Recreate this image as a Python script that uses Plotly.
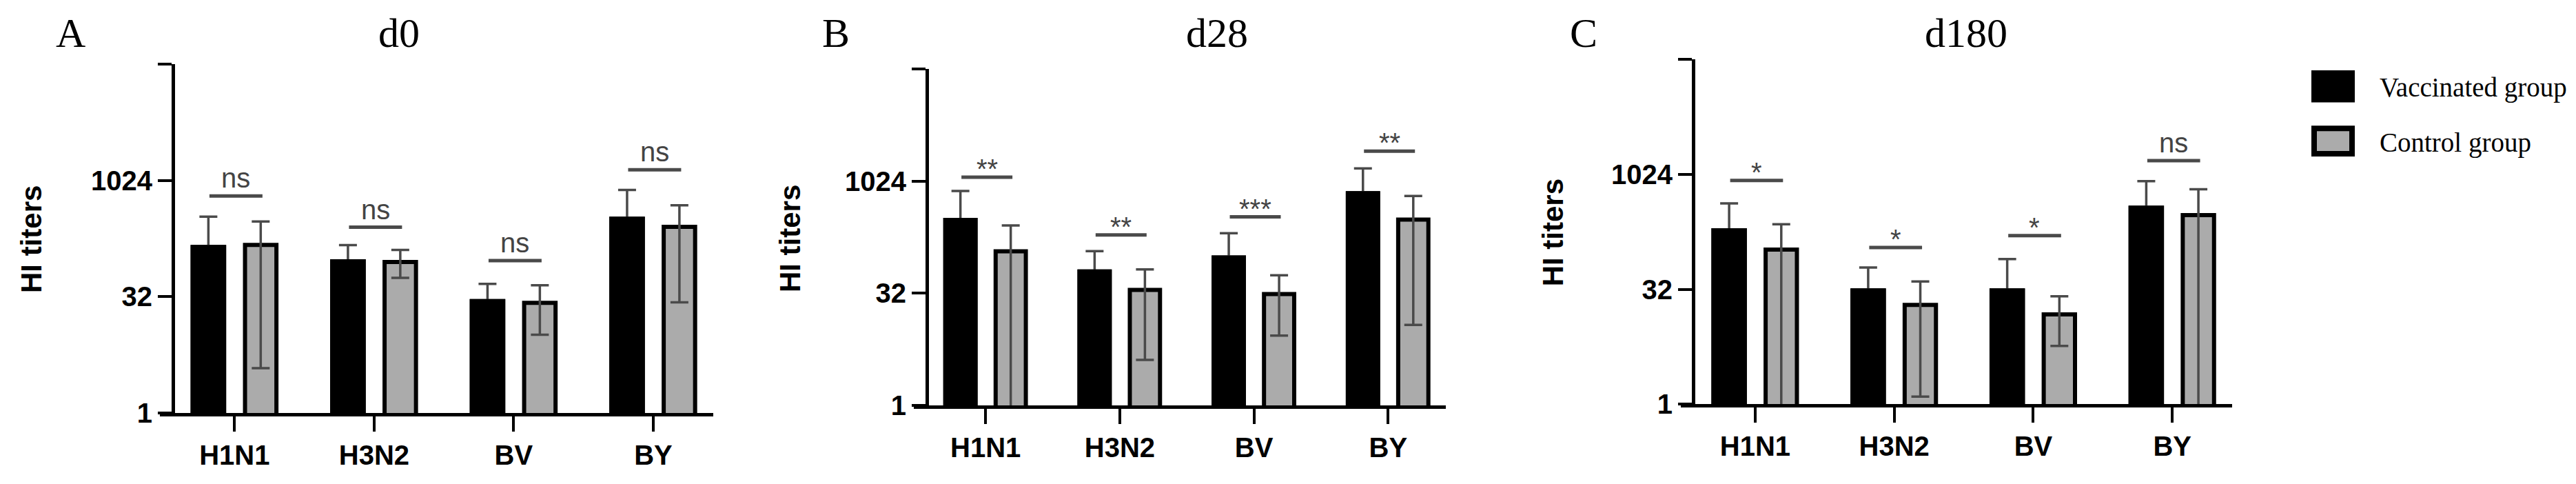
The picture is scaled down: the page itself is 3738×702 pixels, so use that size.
import math
import plotly.graph_objects as go

W, H = 3738, 702

strains = ["H1N1", "H3N2", "BV", "BY"]
groups = ["Vaccinated group", "Control group"]
y_tickvals = [1, 32, 1024, 32768]
y_ticktext = ["1", "32", "1024", ""]

# d0 (geometric mean titers, upper / lower ends of error bars)
d0_vacc = [141, 92, 28, 327]
d0_vacc_hi = [348, 149, 47, 774]
d0_ctrl = [150, 90, 26.7, 257]
d0_ctrl_hi = [301, 129, 45, 488]
d0_ctrl_lo = [3.8, 56, 10.3, 27]
d0_sig_y = [646, 254, 94, 1410]
d0_sig = ["ns", "ns", "ns", "ns"]

# d28
d28_vacc = [309, 63, 97, 705]
d28_vacc_hi = [755, 118, 205, 1518]
d28_ctrl = [117, 35.5, 31.3, 313]
d28_ctrl_hi = [260, 67, 56, 649]
d28_ctrl_lo = [0.5, 4.1, 8.7, 12.1]
d28_sig_y = [1155, 194, 340, 2590]
d28_sig = ["**", "**", "***", "**"]

# d180
d180_vacc = [190, 31, 31, 375]
d180_vacc_hi = [428, 62, 80, 838]
d180_ctrl = [106, 20, 15, 300]
d180_ctrl_hi = [228, 40.5, 26, 657]
d180_ctrl_lo = [0.5, 1.26, 5.8, 0.5]
d180_sig_y = [855, 113, 162, 1555]
d180_sig = ["*", "*", "*", "ns"]

panels = [
    dict(letter="A", title="d0", vacc=d0_vacc, vacc_hi=d0_vacc_hi, ctrl=d0_ctrl,
         ctrl_hi=d0_ctrl_hi, ctrl_lo=d0_ctrl_lo, sig_y=d0_sig_y, sig=d0_sig,
         x0=224, x1=1027, yline=243, top=88, bottom=610,
         letter_x=94, title_x=571, ytitle_x=37, ytitle_y=350),
    dict(letter="B", title="d28", vacc=d28_vacc, vacc_hi=d28_vacc_hi, ctrl=d28_ctrl,
         ctrl_hi=d28_ctrl_hi, ctrl_lo=d28_ctrl_lo, sig_y=d28_sig_y, sig=d28_sig,
         x0=1318, x1=2090, yline=1337, top=95, bottom=599,
         letter_x=1205, title_x=1758, ytitle_x=1138, ytitle_y=349),
    dict(letter="C", title="d180", vacc=d180_vacc, vacc_hi=d180_vacc_hi, ctrl=d180_ctrl,
         ctrl_hi=d180_ctrl_hi, ctrl_lo=d180_ctrl_lo, sig_y=d180_sig_y, sig=d180_sig,
         x0=2431, x1=3231, yline=2449, top=81, bottom=597,
         letter_x=2290, title_x=2845, ytitle_x=2245, ytitle_y=340),
]

GRAY = "#ababab"
ERR = "#4a4a4a"
SANS = "Liberation Sans, Arial, sans-serif"
NARROW = "Liberation Sans Narrow, Arial Narrow, Liberation Sans, sans-serif"
SERIF = "Liberation Serif, Times New Roman, serif"

fig = go.Figure()
annotations = []
shapes = []

for i, p in enumerate(panels, start=1):
    xa, ya = f"x{i}", f"y{i}"
    # vaccinated: stem runs down through the bar, covered by the redraw below
    fig.add_trace(go.Bar(
        x=strains, y=p["vacc"], name=groups[0], xaxis=xa, yaxis=ya,
        offsetgroup="vacc", marker=dict(color="black", line=dict(color="black", width=6)),
        error_y=dict(type="data", symmetric=False,
                     array=[h - v for h, v in zip(p["vacc_hi"], p["vacc"])],
                     arrayminus=[v * 0.5 for v in p["vacc"]],
                     color=ERR, thickness=3.5, width=13),
        showlegend=False))
    fig.add_trace(go.Bar(
        x=strains, y=p["ctrl"], name=groups[1], xaxis=xa, yaxis=ya,
        offsetgroup="ctrl", marker=dict(color=GRAY, line=dict(color="black", width=6)),
        error_y=dict(type="data", symmetric=False,
                     array=[h - v for h, v in zip(p["ctrl_hi"], p["ctrl"])],
                     arrayminus=[v - lo for lo, v in zip(p["ctrl_lo"], p["ctrl"])],
                     color=ERR, thickness=3.5, width=13),
        showlegend=False))
    fig.add_trace(go.Bar(
        x=strains, y=p["vacc"], xaxis=xa, yaxis=ya, offsetgroup="vacc",
        marker=dict(color="black", line=dict(color="black", width=6)),
        showlegend=False, hoverinfo="skip"))

    fig.update_layout(**{
        f"xaxis{i}": dict(
            domain=[p["x0"] / W, p["x1"] / W], anchor=ya, range=[-0.535, 3.43],
            type="category", showline=True, linecolor="black", linewidth=5,
            ticks="outside", ticklen=22, tickwidth=4, tickcolor="black",
            tickfont=dict(family=SANS, size=40, color="black", weight="bold"),
            showgrid=False, zeroline=False, fixedrange=True),
        f"yaxis{i}": dict(
            domain=[1 - p["bottom"] / H, 1 - p["top"] / H], anchor="free",
            position=p["yline"] / W, type="log", range=[0, math.log10(32768)],
            tickvals=y_tickvals, ticktext=y_ticktext,
            showline=True, linecolor="black", linewidth=5,
            ticks="outside", ticklen=20, tickwidth=4, tickcolor="black",
            tickfont=dict(family=SANS, size=40, color="black", weight="bold"),
            showgrid=False, zeroline=False, fixedrange=True),
    })

    annotations.append(dict(text=p["letter"], x=p["letter_x"] / W, y=1 - 41 / H,
                            xref="paper", yref="paper", showarrow=False,
                            xanchor="center", yanchor="middle",
                            font=dict(family=SERIF, size=60, color="black")))
    annotations.append(dict(text=p["title"], x=p["title_x"] / W, y=1 - 41 / H,
                            xref="paper", yref="paper", showarrow=False,
                            xanchor="center", yanchor="middle",
                            font=dict(family=SERIF, size=60, color="black")))
    annotations.append(dict(text="HI titers", x=p["ytitle_x"] / W, y=1 - p["ytitle_y"] / H,
                            xref="paper", yref="paper", showarrow=False, textangle=-90,
                            xanchor="center", yanchor="middle",
                            font=dict(family=SANS, size=42, color="black", weight="bold")))

    for j, (sy, lab) in enumerate(zip(p["sig_y"], p["sig"])):
        # shapes take raw data values on a log axis, annotations take log10
        shapes.append(dict(type="line", xref=xa, yref=ya, x0=j - 0.18, x1=j + 0.2,
                           y0=sy, y1=sy, line=dict(color=ERR, width=5)))
        annotations.append(dict(text=lab, x=j + 0.01, y=math.log10(sy), xref=xa, yref=ya,
                                showarrow=False, xanchor="center", yanchor="bottom",
                                yshift=2 if lab == "ns" else -12,
                                font=dict(family=NARROW, size=40, color="#444444")))

# legend
shapes.append(dict(type="rect", xref="paper", yref="paper",
                   x0=3346 / W, x1=3409 / W, y0=1 - 145 / H, y1=1 - 97 / H,
                   fillcolor="black", line=dict(width=0)))
shapes.append(dict(type="rect", xref="paper", yref="paper",
                   x0=3350 / W, x1=3405 / W, y0=1 - 222 / H, y1=1 - 184 / H,
                   fillcolor=GRAY, line=dict(color="black", width=8)))
for txt, yy in zip(groups, [123, 205]):
    annotations.append(dict(text=txt, x=3443 / W, y=1 - yy / H, xref="paper", yref="paper",
                            showarrow=False, xanchor="left", yanchor="middle",
                            font=dict(family=SERIF, size=39, color="black")))

fig.update_layout(
    width=W, height=H, margin=dict(l=0, r=0, t=0, b=0),
    paper_bgcolor="white", plot_bgcolor="white",
    barmode="group", bargap=0.25, bargroupgap=0.4,
    showlegend=False, annotations=annotations, shapes=shapes,
)

fig.write_html("out.html")
